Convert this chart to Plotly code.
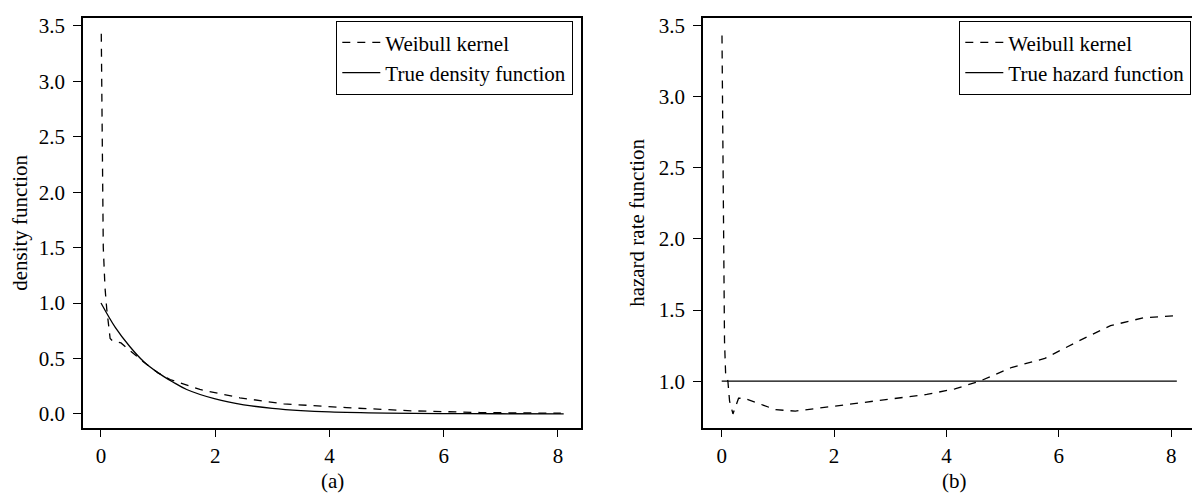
import plotly.graph_objects as go

# ---- data ----
# Panel (a): density
dens_true_x = [0.0, 0.25, 0.5, 0.75, 1.0, 1.25, 1.5, 2.0, 2.5, 3.0, 3.5, 4.0, 5.0, 6.0, 7.0, 8.1]
dens_true_y = [1.0, 0.78, 0.61, 0.47, 0.37, 0.29, 0.22, 0.135, 0.082, 0.05, 0.03, 0.018, 0.007, 0.0025, 0.001, 0.0003]

dens_wk_x = [0.005, 0.02, 0.04, 0.07, 0.1, 0.16, 0.2, 0.35, 0.54, 0.74, 1.0, 1.21, 1.73, 2.43, 3.2, 4.3, 5.47, 6.64, 8.05]
dens_wk_y = [3.43, 2.5, 1.5, 1.14, 0.95, 0.68, 0.66, 0.64, 0.56, 0.47, 0.37, 0.31, 0.22, 0.145, 0.09, 0.056, 0.027, 0.012, 0.006]

# Panel (b): hazard rate
haz_true_x = [0.0, 8.1]
haz_true_y = [1.0, 1.0]

haz_wk_x = [0.005, 0.02, 0.035, 0.05, 0.07, 0.11, 0.14, 0.2, 0.3, 0.4, 0.61, 0.96, 1.31, 1.72, 2.25, 2.95, 3.65, 4.15, 4.59, 5.17, 5.75, 6.34, 6.92, 7.5, 8.05]
haz_wk_y = [3.43, 2.5, 1.5, 1.28, 1.05, 1.0, 0.86, 0.77, 0.88, 0.88, 0.85, 0.80, 0.79, 0.81, 0.84, 0.87, 0.907, 0.946, 1.0, 1.098, 1.16, 1.28, 1.39, 1.445, 1.46]

x_ticks = [0, 2, 4, 6, 8]
y1_ticks = [0.0, 0.5, 1.0, 1.5, 2.0, 2.5, 3.0, 3.5]
y2_ticks = [1.0, 1.5, 2.0, 2.5, 3.0, 3.5]

FONT = "Liberation Serif"
FS = 21
OFF = 8                      # default page body margin
W, H = 1200 - 2 * OFF, 499 - OFF
DASH = "8px,7px"


def px(xs):
    return (xs - OFF) / W


def py(ys):
    return 1 - (ys - OFF) / H


fig = go.Figure()
fig.add_trace(go.Scatter(x=dens_wk_x, y=dens_wk_y, mode="lines", name="Weibull kernel",
                         line=dict(color="black", width=1.3, dash=DASH),
                         xaxis="x", yaxis="y", legend="legend"))
fig.add_trace(go.Scatter(x=dens_true_x, y=dens_true_y, mode="lines", name="True density function",
                         line=dict(color="black", width=1.3, shape="spline"),
                         xaxis="x", yaxis="y", legend="legend"))
fig.add_trace(go.Scatter(x=haz_wk_x, y=haz_wk_y, mode="lines", name="Weibull kernel",
                         line=dict(color="black", width=1.3, dash=DASH),
                         xaxis="x2", yaxis="y2", legend="legend2"))
fig.add_trace(go.Scatter(x=haz_true_x, y=haz_true_y, mode="lines", name="True hazard function",
                         line=dict(color="black", width=1.3),
                         xaxis="x2", yaxis="y2", legend="legend2"))

ax_common = dict(showgrid=False, zeroline=False, showline=True, linecolor="black", linewidth=1.5,
                 ticks="outside", ticklen=8, tickwidth=1.3, tickcolor="black",
                 tickfont=dict(family=FONT, size=FS, color="black"))

ydom = [py(427), py(13.5)]
leg_common = dict(bordercolor="black", borderwidth=1.3, bgcolor="white",
                  font=dict(family=FONT, size=FS), tracegroupgap=0, itemwidth=38,
                  xanchor="right", yanchor="top", y=py(16))
fig.update_layout(
    width=W, height=H,
    margin=dict(l=0, r=0, t=0, b=0),
    paper_bgcolor="white", plot_bgcolor="white",
    font=dict(family=FONT, size=FS, color="black"),
    xaxis=dict(domain=[px(83), px(581)], range=[-0.315, 8.403], tickvals=x_ticks,
               mirror=True, anchor="y", **ax_common),
    yaxis=dict(domain=ydom, range=[-0.125, 3.567], tickvals=y1_ticks, tickformat=".1f",
               mirror=True, anchor="x", ticklabelstandoff=4, **ax_common),
    xaxis2=dict(domain=[px(703), 1.0], range=[-0.333, 8.37], tickvals=x_ticks,
                mirror=True, anchor="y2", **ax_common),
    yaxis2=dict(domain=ydom, range=[0.673, 3.549], tickvals=y2_ticks, tickformat=".1f",
                mirror=False, anchor="x2", ticklabelstandoff=4, **ax_common),
    legend=dict(x=px(573), **leg_common),
    legend2=dict(x=px(1191), **leg_common),
    annotations=[
        dict(text="density function", x=px(20), y=py(220), xref="paper", yref="paper",
             textangle=-90, showarrow=False, xanchor="center", yanchor="middle",
             font=dict(family=FONT, size=FS)),
        dict(text="hazard rate function", x=px(637), y=py(220), xref="paper", yref="paper",
             textangle=-90, showarrow=False, xanchor="center", yanchor="middle",
             font=dict(family=FONT, size=FS)),
        dict(text="(a)", x=px(332), y=py(481), xref="paper", yref="paper",
             showarrow=False, xanchor="center", yanchor="middle",
             font=dict(family=FONT, size=FS)),
        dict(text="(b)", x=px(955), y=py(481), xref="paper", yref="paper",
             showarrow=False, xanchor="center", yanchor="middle",
             font=dict(family=FONT, size=FS)),
    ],
)

fig.write_html("out.html")
